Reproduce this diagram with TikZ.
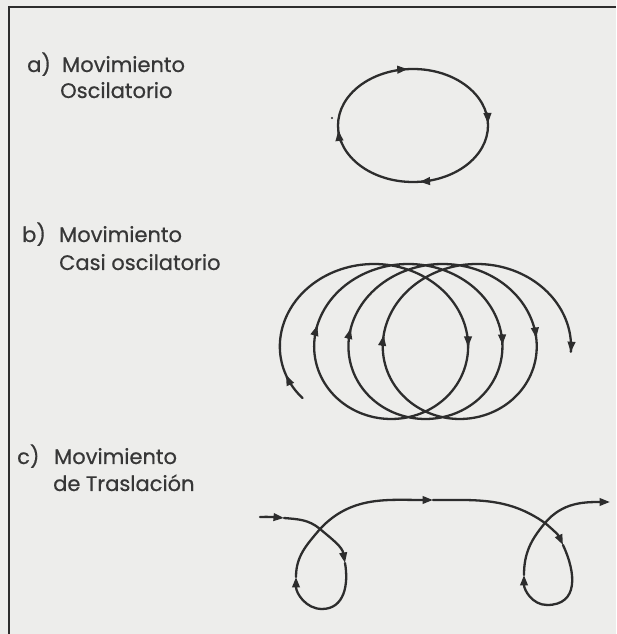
\documentclass[tikz,border=0pt]{standalone}
\usepackage{fontspec}
\setmainfont{Poppins}[UprightFeatures={FakeBold=0.6}]
\usetikzlibrary{arrows.meta,calc}
\definecolor{paper}{RGB}{237,237,235}
\definecolor{ink}{RGB}{45,45,45}
\definecolor{txt}{RGB}{55,55,55}
\tikzset{
  curve/.style={draw=ink, line width=2.3pt, line cap=round},
  arr/.style={curve, -{Triangle[length=10.5pt,width=7.5pt]}},
  lbl/.style={anchor=base west, inner sep=0pt, text=txt, font=\fontsize{21}{25}\selectfont},
}
\newcommand\bArr[1]{\draw[arr] plot[domain={#1-0.12}:{#1}, samples=6] ({365.4+5.46*\x-85.4*cos(\x r)},{292.5+77.5*sin(\x r)});}
\newcommand\eArr[1]{\draw[arr] ($(ec)+({#1+6}:75 and 56.5)$) arc[start angle={#1+6}, end angle={#1}, x radius=75, y radius=56.5];}
\begin{document}
\begin{tikzpicture}[x=1pt,y=1pt]
\useasboundingbox (0,0) rectangle (616,634);
\fill[paper] (0,0) rectangle (616,634);
% frame
\draw[ink, line width=2.5pt] (9,0) -- (9,627) -- (616,627);
% labels
\node[lbl] (la) at (27,562) {a)};
\node[lbl] (la1) at (62,562) {Movimiento};
\node[lbl] (la2) at (60,536) {Oscilatorio};
\node[lbl] (lb) at (22,392) {b)};
\node[lbl] (lb1) at (59,392) {Movimiento};
\node[lbl] (lb2) at (59,364) {Casi oscilatorio};
\node[lbl] (lc) at (17,170) {c)};
\node[lbl] (lc1) at (54,170) {Movimiento};
\node[lbl] (lc2) at (53,143) {de Traslación};
% a) ellipse
\coordinate (ec) at (413,508.5);
\draw[curve] (ec) ellipse [x radius=75, y radius=56.5];
\eArr{94}
\eArr{2}
\eArr{275}
\eArr{185}
\fill[ink] (332,516) circle (1.2);
% b) looping path
\draw[curve] plot[domain=-0.817:22.13, samples=500, smooth] ({365.4+5.46*\x-85.4*cos(\x r)},{292.5+77.5*sin(\x r)});
\bArr{-0.447}
\bArr{6.283+0.21}
\bArr{12.566+0.17}
\bArr{18.850+0.08}
\bArr{3.1416+0.07}
\bArr{9.425+0.045}
\bArr{15.708-0.045}
\bArr{22.13}
% c) translation path
\coordinate (P0) at (260,117);
\coordinate (A1) at (284,116);
\coordinate (X1) at (320,105);
\coordinate (A2) at (345,71);
\coordinate (B1) at (322,25);
\coordinate (A3) at (296,57);
\coordinate (A4) at (433,134);
\coordinate (X2) at (545,111);
\coordinate (A5) at (563,89);
\coordinate (B2) at (547,29);
\coordinate (A6) at (524,59);
\coordinate (E) at (610,132);
\draw[arr] (P0) to[out=2,in=175] (A1);
\draw[curve] (A1) to[out=-5,in=140] (X1);
\draw[arr] (X1) to[out=-40,in=100] (A2);
\draw[curve] (A2) to[out=-80,in=0,looseness=1.1] (B1);
\draw[arr] (B1) to[out=180,in=-90] (A3);
\draw[curve] (A3) to[out=90,in=-130] (X1);
\draw[arr] (X1) to[out=47,in=180] (A4);
\draw[curve] (A4) to[out=0,in=145] (X2);
\draw[arr] (X2) to[out=-40,in=115] (A5);
\draw[curve] (A5) to[out=-65,in=0,looseness=1.3] (B2);
\draw[arr] (B2) to[out=180,in=-90] (A6);
\draw[curve] (A6) to[out=90,in=-130] (X2);
\draw[arr] (X2) to[out=50,in=180] (E);
\end{tikzpicture}
\end{document}
